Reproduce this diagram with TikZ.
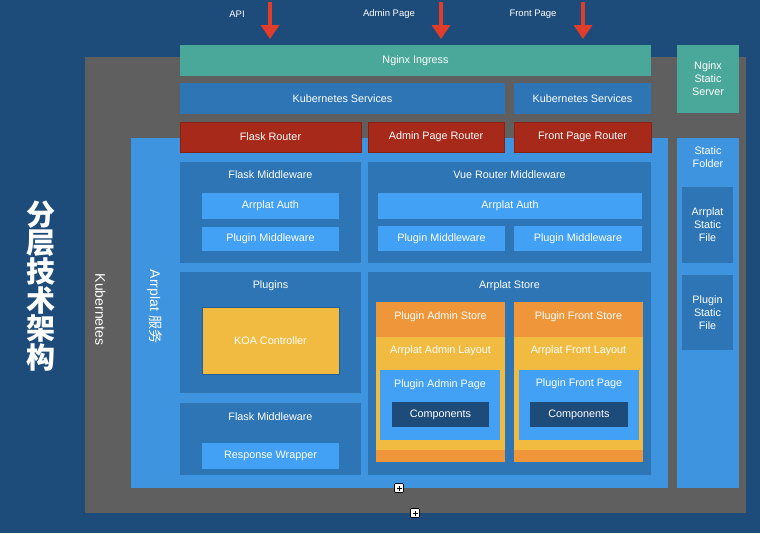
\documentclass[tikz,border=0pt]{standalone}
\usepackage{fontspec}
\setmainfont{Liberation Sans}
\newfontfamily\cjk{Noto Sans CJK SC}
\usepackage{color}
\definecolor{mynavy}{RGB}{29,75,122}
\definecolor{mygray}{RGB}{95,95,95}
\definecolor{myteal}{RGB}{74,168,154}
\definecolor{mymidblue}{RGB}{46,117,182}
\definecolor{mylightblue}{RGB}{62,148,222}
\definecolor{mybrightblue}{RGB}{66,161,245}
\definecolor{myred}{RGB}{166,41,26}
\definecolor{myorange}{RGB}{240,150,58}
\definecolor{myyellow}{RGB}{240,187,64}
\definecolor{myarrow}{RGB}{226,61,43}
\usepackage{tikz}
\usetikzlibrary{arrows.meta,positioning}
\tikzstyle{box}=[rectangle,inner sep=0pt,text=white,font=\fontsize{10.8}{13}\selectfont,align=center]
\tikzstyle{tealbox}=[box,fill=myteal]
\tikzstyle{midbox}=[box,fill=mymidblue]
\tikzstyle{lightbox}=[box,fill=mylightblue]
\tikzstyle{brightbox}=[box,fill=mybrightblue]
\tikzstyle{routerbox}=[box,fill=myred,draw=myred!80!black,line width=0.6pt]
\tikzstyle{orangebox}=[box,fill=myorange]
\tikzstyle{yellowbox}=[box,fill=myyellow]
\tikzstyle{title}=[text=white,font=\fontsize{10.8}{13}\selectfont]
\tikzstyle{entry}=[text=white,font=\fontsize{9.5}{11}\selectfont]
\tikzstyle{plusbox}=[draw=black,fill=white,rectangle,rounded corners=1pt,minimum size=9pt,inner sep=0pt,line width=0.6pt,
  path picture={\draw[black,line width=0.6pt] ([xshift=2pt]path picture bounding box.west) -- ([xshift=-2pt]path picture bounding box.east)
    ([yshift=-2pt]path picture bounding box.north) -- ([yshift=2pt]path picture bounding box.south);}]

\begin{document}
\begin{tikzpicture}[x=1pt,y=-1pt,redarrow/.style={draw=myarrow,line width=4pt,-{Triangle[width=18pt,length=14pt]}}]
\useasboundingbox (0,0) rectangle (760,533);
\fill[mynavy] (0,0) rectangle (760,533);
% entry points
\draw (237,14) node [entry] (api) {API};
\draw (389,14) node [entry] (admin) {Admin Page};
\draw (533,14) node [entry] (front) {Front Page};
\coordinate (a1) at (270,2);
\coordinate (a1e) at (270,39);
\coordinate (a2) at (441,2);
\coordinate (a2e) at (441,39);
\coordinate (a3) at (583,2);
\coordinate (a3e) at (583,39);
\draw[redarrow] (a1) -- (a1e);
\draw[redarrow] (a2) -- (a2e);
\draw[redarrow] (a3) -- (a3e);
% kubernetes frame
\draw (415.5,285) node [box,fill=mygray,minimum width=661pt,minimum height=456pt] (k8s) {};
\draw (100.5,309.5) node [title,rotate=-90,font=\fontsize{14}{16}\selectfont] (k8stxt) {Kubernetes};
\draw (40.5,286) node [text=white,font=\cjk\bfseries\fontsize{29}{28.7}\selectfont,align=center] (layers) {分\\层\\技\\术\\架\\构};
\draw (415.5,60.5) node [tealbox,minimum width=471pt,minimum height=31pt] (ingress) {Nginx Ingress};
\draw (708,79) node [tealbox,minimum width=62pt,minimum height=68pt] (static) {Nginx\\Static\\Server};
\draw (342.5,98.5) node [midbox,minimum width=325pt,minimum height=31pt] (svc1) {Kubernetes Services};
\draw (582.5,98.5) node [midbox,minimum width=137pt,minimum height=31pt] (svc2) {Kubernetes Services};
% arrplat service
\draw (399.5,313) node [lightbox,minimum width=537pt,minimum height=350pt] (arrplat) {};
\draw (154.5,306.5) node [title,rotate=-90,font=\fontsize{14}{16}\selectfont] (arrplattxt) {Arrplat {\cjk 服务}};
\draw (270.5,137) node [routerbox,minimum width=181pt,minimum height=30pt] (flaskrt) {Flask Router};
\draw (436,137) node [routerbox,minimum width=136pt,minimum height=30pt] (adminrt) {Admin Page Router};
\draw (582.5,137) node [routerbox,minimum width=137pt,minimum height=30pt] (frontrt) {Front Page Router};
% static folder
\draw (708,313) node [lightbox,minimum width=62pt,minimum height=350pt] (folder) {};
\draw (708,157) node [title,align=center] (foldertxt) {Static\\Folder};
\draw (707.5,225) node [midbox,minimum width=51pt,minimum height=76pt] (asfile) {Arrplat\\Static\\File};
\draw (707.5,312.5) node [midbox,minimum width=51pt,minimum height=75pt] (psfile) {Plugin\\Static\\File};
% middleware
\draw (270.5,212.5) node [midbox,minimum width=181pt,minimum height=101pt] (flaskmw) {};
\draw (270.5,175) node [title] (flaskmwtxt) {Flask Middleware};
\draw (270.5,206) node [brightbox,minimum width=137pt,minimum height=26pt] (auth1) {Arrplat Auth};
\draw (270.5,239) node [brightbox,minimum width=137pt,minimum height=24pt] (pmw1) {Plugin Middleware};
\draw (509.5,212.5) node [midbox,minimum width=283pt,minimum height=101pt] (vuemw) {};
\draw (509.5,175) node [title] (vuemwtxt) {Vue Router Middleware};
\draw (510,206) node [brightbox,minimum width=264pt,minimum height=26pt] (auth2) {Arrplat Auth};
\draw (441.5,238.5) node [brightbox,minimum width=127pt,minimum height=25pt] (pmw2) {Plugin Middleware};
\draw (578,238.5) node [brightbox,minimum width=128pt,minimum height=25pt] (pmw3) {Plugin Middleware};
% plugins
\draw (270.5,332.5) node [midbox,minimum width=181pt,minimum height=121pt] (plugins) {};
\draw (270.5,286) node [title] (pluginstxt) {Plugins};
\draw (270.5,340.5) node [yellowbox,draw=mymidblue!80!black,line width=0.6pt,minimum width=137pt,minimum height=67pt] (koa) {KOA Controller};
\draw (270.5,439) node [midbox,minimum width=181pt,minimum height=72pt] (flaskmw2) {};
\draw (270.5,417) node [title] (flaskmw2txt) {Flask Middleware};
\draw (270.5,456) node [brightbox,minimum width=137pt,minimum height=26pt] (resp) {Response Wrapper};
% store
\draw (509.5,373.5) node [midbox,minimum width=283pt,minimum height=203pt] (store) {};
\draw (509.5,286) node [title] (storetxt) {Arrplat Store};
\draw (440.5,382) node [orangebox,minimum width=129pt,minimum height=160pt] (acol) {};
\draw (440.5,393.5) node [yellowbox,minimum width=129pt,minimum height=113pt] (alayout) {};
\draw (440.5,317) node [title] (astore) {Plugin Admin Store};
\draw (440.5,351) node [title] (alayouttxt) {Arrplat Admin Layout};
\draw (440,405) node [brightbox,minimum width=120pt,minimum height=70pt] (apage) {};
\draw (440,385) node [title] (apagetxt) {Plugin Admin Page};
\draw (440.5,414.5) node [box,fill=mynavy,minimum width=97pt,minimum height=25pt] (acomp) {Components};
\draw (578.5,382) node [orangebox,minimum width=129pt,minimum height=160pt] (fcol) {};
\draw (578.5,393.5) node [yellowbox,minimum width=129pt,minimum height=113pt] (flayout) {};
\draw (578.5,317) node [title] (fstore) {Plugin Front Store};
\draw (578.5,351) node [title] (flayouttxt) {Arrplat Front Layout};
\draw (579,405) node [brightbox,minimum width=120pt,minimum height=70pt] (fpage) {};
\draw (579,384) node [title] (fpagetxt) {Plugin Front Page};
\draw (579,414.5) node [box,fill=mynavy,minimum width=98pt,minimum height=25pt] (fcomp) {Components};
% handles
\draw (399,488) node [plusbox] (plus1) {};
\draw (415,513) node [plusbox] (plus2) {};
\end{tikzpicture}
\end{document}
